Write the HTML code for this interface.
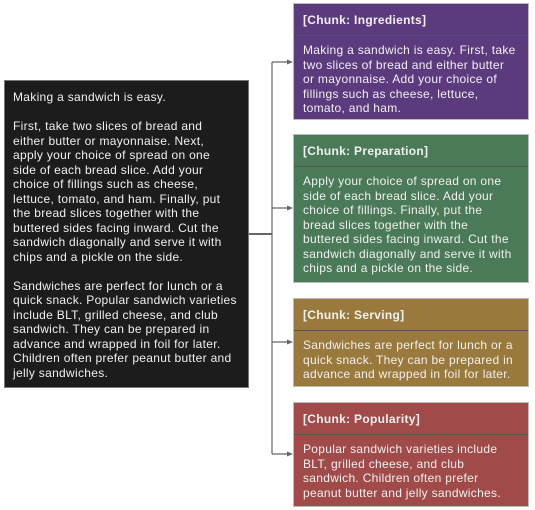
<!DOCTYPE html>
<html><head><meta charset="utf-8"><style>
body{margin:0;width:535px;height:510px;background:#fff;position:relative;overflow:hidden;font-family:"Liberation Sans",sans-serif;}
.b{position:absolute;color:#f0f0f0;font-size:12px;letter-spacing:0.3px;line-height:14.5px;box-sizing:border-box;white-space:nowrap;}
.left{left:4px;top:80px;width:245px;height:308px;background:#1c1c1c;border:1px solid #777;padding:9px 8px;}
.c{left:293px;width:236px;border:1px solid #bbb;}
.h{font-weight:bold;height:32px;line-height:32px;padding-left:9px;border-bottom:1px solid #555;box-sizing:border-box;}
.t{padding:7px 9px;}
</style></head><body>
<div class="b left">Making a sandwich is easy.<br><br>First, take two slices of bread and<br>either butter or mayonnaise. Next,<br>apply your choice of spread on one<br>side of each bread slice. Add your<br>choice of fillings such as cheese,<br>lettuce, tomato, and ham. Finally, put<br>the bread slices together with the<br>buttered sides facing inward. Cut the<br>sandwich diagonally and serve it with<br>chips and a pickle on the side.<br><br>Sandwiches are perfect for lunch or a<br>quick snack. Popular sandwich varieties<br>include BLT, grilled cheese, and club<br>sandwich. They can be prepared in<br>advance and wrapped in foil for later.<br>Children often prefer peanut butter and<br>jelly sandwiches.</div>
<div class="b c" style="top:3px;height:117px;background:#5c3a7e"><div class="h">[Chunk: Ingredients]</div><div class="t">Making a sandwich is easy. First, take<br>two slices of bread and either butter<br>or mayonnaise. Add your choice of<br>fillings such as cheese, lettuce,<br>tomato, and ham.</div></div>
<div class="b c" style="top:134px;height:149px;background:#4a7a58"><div class="h">[Chunk: Preparation]</div><div class="t">Apply your choice of spread on one<br>side of each bread slice. Add your<br>choice of fillings. Finally, put the<br>bread slices together with the<br>buttered sides facing inward. Cut the<br>sandwich diagonally and serve it with<br>chips and a pickle on the side.</div></div>
<div class="b c" style="top:298px;height:89px;background:#9a7a3c"><div class="h">[Chunk: Serving]</div><div class="t">Sandwiches are perfect for lunch or a<br>quick snack. They can be prepared in<br>advance and wrapped in foil for later.</div></div>
<div class="b c" style="top:402px;height:105px;background:#a04b4a"><div class="h">[Chunk: Popularity]</div><div class="t">Popular sandwich varieties include<br>BLT, grilled cheese, and club<br>sandwich. Children often prefer<br>peanut butter and jelly sandwiches.</div></div>
<svg width="535" height="510" style="position:absolute;left:0;top:0">
<g stroke="#666" fill="none" stroke-width="1.2">
<line x1="249" y1="234" x2="272" y2="234" stroke-width="2"/>
<line x1="272" y1="62" x2="272" y2="454"/>
<line x1="272" y1="62" x2="290" y2="62"/>
<line x1="272" y1="208" x2="290" y2="208"/>
<line x1="272" y1="342" x2="290" y2="342"/>
<line x1="272" y1="454" x2="290" y2="454"/>
</g>
<g fill="#666">
<polygon points="293,62 287,59.5 287,64.5"/>
<polygon points="293,208 287,205.5 287,210.5"/>
<polygon points="293,342 287,339.5 287,344.5"/>
<polygon points="293,454 287,451.5 287,456.5"/>
</g></svg>
</body></html>
